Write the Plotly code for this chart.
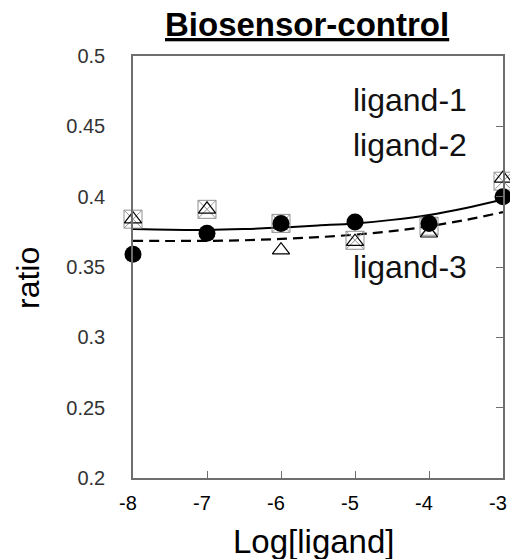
import plotly.graph_objects as go

# log concentrations
log_conc = [-8, -7, -6, -5, -4, -3]
x_ticktext = ["-8", "-7", "-6", "-5", "-4", "-3"]

# measured ratios
ratio_circle = [0.359, 0.374, 0.381, 0.382, 0.381, 0.400]
ratio_triangle = [0.384, 0.391, 0.362, 0.368, 0.374, 0.413]
ratio_square = [0.384, 0.391, 0.381, 0.369, 0.379, 0.411]

# fitted curves
fit_x = [-8, -7.5, -7, -6.5, -6, -5.5, -5, -4.5, -4, -3.5, -3]
fit_solid = [0.3770, 0.3765, 0.3764, 0.3770, 0.3780, 0.3795, 0.3810, 0.3835, 0.3870, 0.3920, 0.3980]
fit_dashed = [0.3686, 0.3685, 0.3686, 0.3690, 0.3700, 0.3712, 0.3730, 0.3755, 0.3790, 0.3835, 0.3890]

y_ticks = [0.2, 0.25, 0.3, 0.35, 0.4, 0.45, 0.5]
y_ticktext = ["0.2", "0.25", "0.3", "0.35", "0.4", "0.45", "0.5"]

labels = ["ligand-1", "ligand-2", "ligand-3"]
label_x = [-4.26, -4.26, -4.26]
label_y = [0.4687, 0.4367, 0.350]

FONT = "Liberation Sans, Arial, sans-serif"

fig = go.Figure()

fig.add_trace(go.Scatter(x=fit_x, y=fit_solid, mode="lines",
                         line=dict(color="black", width=2, shape="spline"),
                         showlegend=False, hoverinfo="skip"))
fig.add_trace(go.Scatter(x=fit_x, y=fit_dashed, mode="lines",
                         line=dict(color="black", width=2.2, dash="10px,6px", shape="spline"),
                         showlegend=False, hoverinfo="skip"))

fig.add_trace(go.Scatter(x=log_conc, y=ratio_square, mode="markers", name="square",
                         marker=dict(symbol="square-x-open", size=18, color="#909090",
                                     line=dict(width=1, color="#909090")),
                         cliponaxis=False, showlegend=False))
fig.add_trace(go.Scatter(x=log_conc, y=ratio_triangle, mode="markers", name="triangle",
                         marker=dict(symbol="triangle-up-open", size=15, color="black",
                                     line=dict(width=1.2, color="black")),
                         cliponaxis=False, showlegend=False))
fig.add_trace(go.Scatter(x=log_conc, y=ratio_circle, mode="markers", name="circle",
                         marker=dict(symbol="circle", size=17, color="black"),
                         cliponaxis=False, showlegend=False))

# invisible trace so the right-hand tick axis exists
fig.add_trace(go.Scatter(x=[log_conc[0]], y=[ratio_circle[0]], yaxis="y2",
                         mode="markers", marker=dict(opacity=0),
                         showlegend=False, hoverinfo="skip"))

for txt, tx, ty in zip(labels, label_x, label_y):
    fig.add_annotation(x=tx, y=ty, text=txt, showarrow=False,
                       font=dict(family=FONT, size=32, color="#111111"))

# title and axis titles as paper annotations
fig.add_annotation(xref="paper", yref="paper", x=(307 - 133) / 370, y=1 + (56 - 25) / 422,
                   yanchor="middle", text="<u><b>Biosensor-control</b></u>", showarrow=False,
                   font=dict(family=FONT, size=33, color="black"))
fig.add_annotation(xref="paper", yref="paper", x=(313 - 133) / 370, y=-(541 - 478) / 422,
                   yanchor="middle", text="Log[ligand]", showarrow=False,
                   font=dict(family=FONT, size=33, color="black"))
fig.add_annotation(xref="paper", yref="paper", x=-(133 - 28) / 370, y=(478 - 278) / 422,
                   xanchor="center", yanchor="middle", textangle=-90, text="ratio",
                   showarrow=False, font=dict(family=FONT, size=32, color="black"))

axis_col = "#6e6e6e"

fig.update_layout(
    width=510, height=559,
    margin=dict(l=133, r=7, t=56, b=81),
    paper_bgcolor="white", plot_bgcolor="white",
    xaxis=dict(range=[-8, -3], tickvals=log_conc, ticktext=x_ticktext,
               ticks="inside", ticklen=7, tickcolor=axis_col,
               showline=True, linecolor=axis_col, linewidth=1.5,
               mirror=True, showgrid=False, zeroline=False, automargin=False,
               ticklabeloverflow="allow", ticklabelstandoff=6, ticklabelshift=-5,
               tickfont=dict(family=FONT, size=20, color="black")),
    yaxis=dict(range=[0.2, 0.5], tickvals=y_ticks, ticktext=y_ticktext,
               ticks="", showline=True, linecolor=axis_col, linewidth=1.5,
               mirror=True, showgrid=False, zeroline=False, automargin=False,
               ticklabelstandoff=22,
               tickfont=dict(family=FONT, size=20, color="#333333")),
    yaxis2=dict(range=[0.2, 0.5], overlaying="y", side="right", tickvals=y_ticks,
                ticks="inside", ticklen=7, tickcolor=axis_col, showticklabels=False,
                showline=False, showgrid=False, zeroline=False, automargin=False),
)

fig.write_html("out.html", config={"displayModeBar": False},
               post_script="document.body.style.margin='0';")
